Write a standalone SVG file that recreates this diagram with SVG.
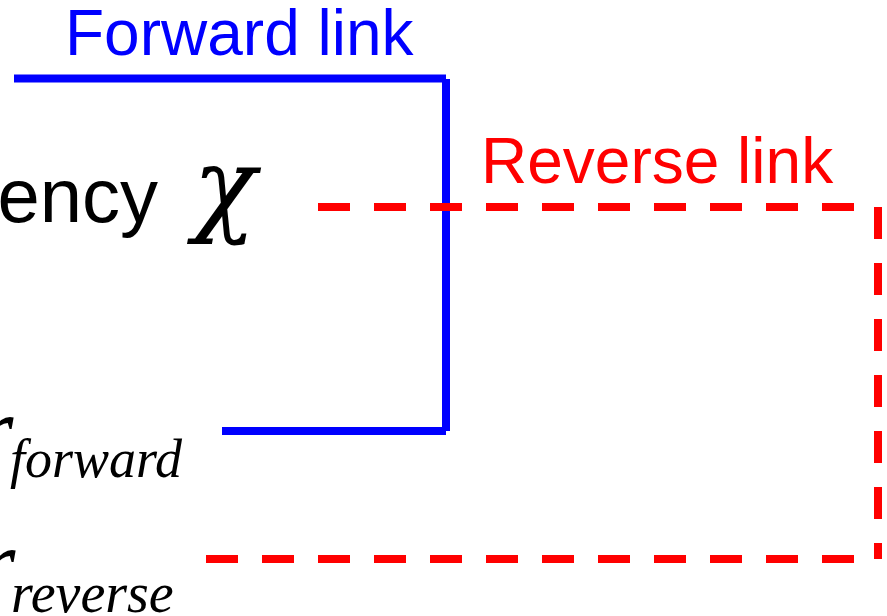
<svg xmlns="http://www.w3.org/2000/svg" width="887" height="616" viewBox="0 0 887 616">
<style>
.sans{font-family:"Liberation Sans",Arial,sans-serif}
.serif{font-family:"Liberation Serif","Times New Roman",serif;font-style:italic}
.greek{font-family:"DejaVu Serif",serif;font-style:italic}
.fwd{stroke:#0000ff;stroke-width:8;fill:none}
.rev{stroke:#ff0000;stroke-width:8;fill:none;stroke-dasharray:32 24}
</style>
<rect width="887" height="616" fill="#ffffff"/>
<g id="labels">
<text id="forward-label" class="sans" x="65" y="55" font-size="64" fill="#0000ff">Forward link</text>
<text id="reverse-label" class="sans" x="481" y="183" font-size="64" fill="#ff0000">Reverse link</text>
</g>
<g id="node-efficiency">
<text class="sans" x="158" y="222" font-size="76" fill="#000000" text-anchor="end">ency</text>
<text class="greek" x="193" y="222" font-size="104" fill="#000000">χ</text>
</g>
<g id="node-r-forward">
<text class="serif" x="-24" y="462" font-size="96" fill="#000000">r</text>
<text class="serif" x="10" y="477" font-size="54" fill="#000000">forward</text>
</g>
<g id="node-r-reverse">
<text class="serif" x="-22" y="595" font-size="96" fill="#000000">r</text>
<text class="serif" x="11" y="612" font-size="56" fill="#000000">reverse</text>
</g>
<g id="connectors">
<line class="fwd" x1="14" y1="78.5" x2="446" y2="78.5" stroke-width="7"/>
<line class="fwd" x1="446" y1="79" x2="446" y2="431"/>
<line class="fwd" x1="222" y1="431" x2="446" y2="431"/>
<line class="rev" x1="318" y1="207" x2="878" y2="207"/>
<line class="rev" x1="878" y1="207" x2="878" y2="559"/>
<line class="rev" x1="206" y1="559" x2="878" y2="559"/>
</g>
</svg>
